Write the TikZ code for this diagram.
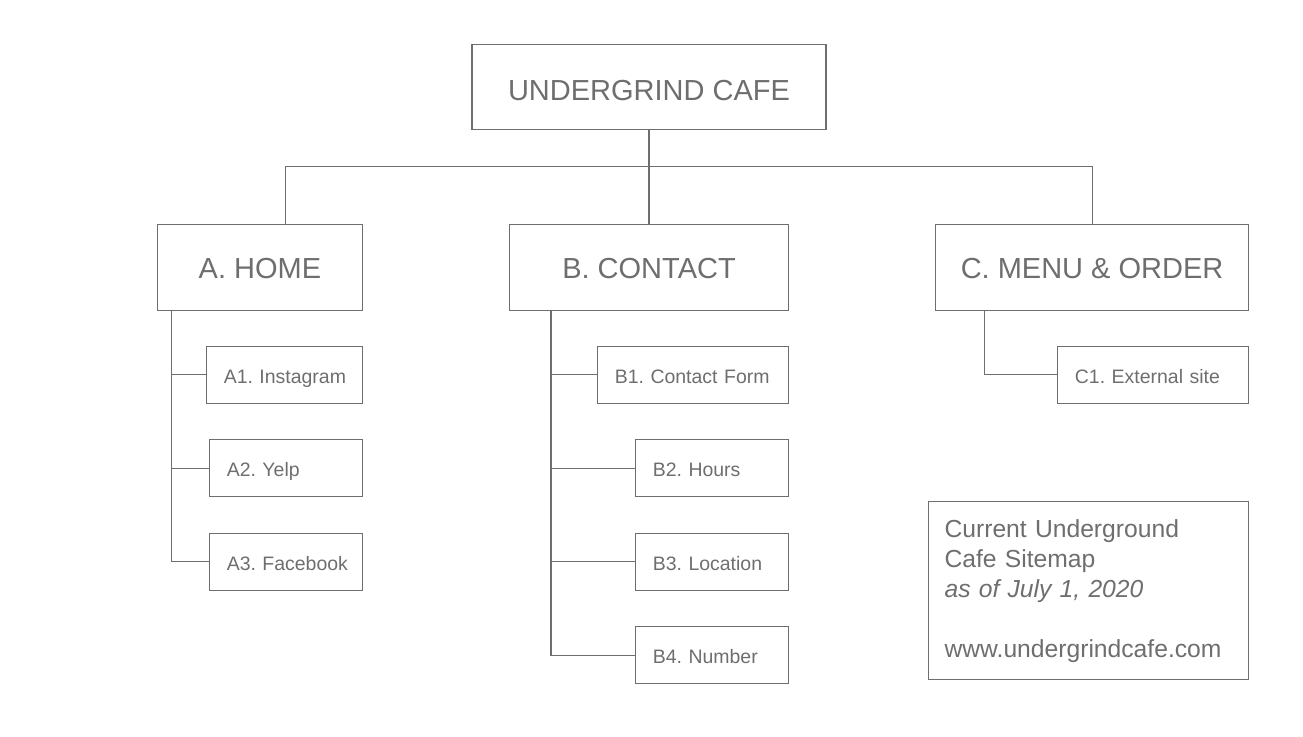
\documentclass[tikz,border=0pt]{standalone}
\usepackage{fontspec}
\setmainfont{Liberation Sans}
\usepackage{tikz}
\usetikzlibrary{positioning, calc}
\definecolor{ink}{HTML}{6E6E6E}

\begin{document}
\begin{tikzpicture}[
    node distance=26.5pt,
    top/.style={rectangle, draw=ink, text=ink, line width=0.8pt, font=\fontsize{21.75}{26}\selectfont, minimum height=64pt, inner sep=0pt, text height=16pt, text depth=0pt},
    leaf/.style={rectangle, draw=ink, text=ink, line width=0.8pt, font=\fontsize{14.6}{17}\selectfont, execute at begin node={\hbox\bgroup\frenchspacing}, execute at end node={\egroup}, minimum height=42.75pt, inner xsep=13pt, inner ysep=0pt, text width=#1, text height=12.5pt, text depth=0pt, align=left},
    note/.style={rectangle, draw=ink, text=ink, line width=0.8pt, font=\fontsize{18.5}{22.5}\selectfont, minimum height=133.5pt, inner xsep=12pt, text width=216pt, align=left},
    link/.style={draw=ink, line width=0.8pt}
]
    \useasboundingbox (0,0) rectangle (977.25pt,-552.75pt);

    % 顶层
    \node[top, minimum width=265.5pt, text height=20pt] (root) at (486.75pt,-65.25pt) {UNDERGRIND CAFE};

    % 三个栏目
    \node[top, minimum width=209.25pt, below=70.5pt of root] (contact) {B. CONTACT};
    \node[top, minimum width=153.75pt, left=109.5pt of contact] (home) {A. HOME};
    \node[top, minimum width=234.75pt, right=109.5pt of contact] (menu) {C. MENU \& ORDER};

    % A 子页面
    \node[leaf=91pt, below=of home.south east, anchor=north east] (a1) {A1. Instagram};
    \node[leaf=88.75pt, below=of a1.south east, anchor=north east] (a2) {A2. Yelp};
    \node[leaf=88.75pt, below=of a2.south east, anchor=north east] (a3) {A3. Facebook};

    % B 子页面
    \node[leaf=117.25pt, below=of contact.south east, anchor=north east] (b1) {B1. Contact Form};
    \node[leaf=88.75pt, below=of b1.south east, anchor=north east] (b2) {B2. Hours};
    \node[leaf=88.75pt, below=of b2.south east, anchor=north east] (b3) {B3. Location};
    \node[leaf=88.75pt, below=of b3.south east, anchor=north east] (b4) {B4. Number};

    % C 子页面
    \node[leaf=117.25pt, below=of menu.south east, anchor=north east] (c1) {C1. External site};

    % 说明
    \node[note, below=73pt of c1.south east, anchor=north east] (info) {Current Underground\\Cafe Sitemap\\\textit{as of July 1, 2020}\\[22.5pt]www.undergrindcafe.com};

    % 连线
    \coordinate (bus) at ($(root.south)+(0,-27pt)$);
    \draw[link] (root) -- (contact);
    \draw[link] (bus) -| ([xshift=19.125pt]home.north);
    \draw[link] (bus) -| (menu);

    \coordinate (ta) at ([xshift=11.25pt]home.south west);
    \coordinate (tb) at ([xshift=31.5pt]contact.south west);
    \coordinate (tc) at ([xshift=36.75pt]menu.south west);
    \draw[link] (ta) |- (a3);
    \draw[link] (tb) |- (b4);
    \draw[link] (tc) |- (c1);
    \foreach \n in {a1, a2} \draw[link] (\n.west) -- (\n.west -| ta);
    \foreach \n in {b1, b2, b3} \draw[link] (\n.west) -- (\n.west -| tb);
\end{tikzpicture}
\end{document}
